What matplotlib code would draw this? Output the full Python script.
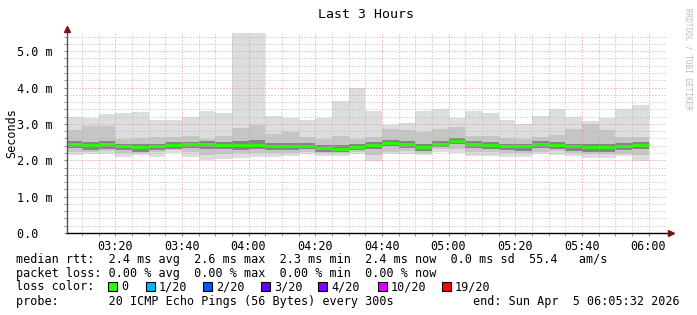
import numpy as np
import matplotlib
matplotlib.use("Agg")
import matplotlib.pyplot as plt
from matplotlib.lines import Line2D
from matplotlib.patches import Rectangle

# SmokePing "Last 3 Hours" - values in ms, one bar per 5 min step (03:10 .. 06:00)
t_start, t_end = 5 + 32 / 60, 185 + 32 / 60   # minutes after 03:00
step = 5
rtt_max = [3.20, 3.16, 3.26, 3.30, 3.32, 3.10, 3.10, 3.20, 3.35, 3.29, 5.50, 5.50,
           3.23, 3.17, 3.12, 3.17, 3.64, 3.99, 3.35, 2.96, 3.03, 3.35, 3.40, 3.17,
           3.35, 3.30, 3.10, 3.01, 3.23, 3.40, 3.18, 3.07, 3.17, 3.40, 3.53]
rtt_hi2 = [2.82, 2.94, 2.94, 2.59, 2.60, 2.64, 2.64, 2.66, 2.59, 2.66, 2.89, 2.98,
           2.73, 2.78, 2.64, 2.59, 2.68, 2.59, 2.64, 2.86, 2.84, 2.78, 2.87, 2.91,
           2.66, 2.66, 2.62, 2.59, 2.64, 2.70, 2.87, 2.99, 2.83, 2.64, 2.64]
rtt_hi3 = [2.52, 2.49, 2.52, 2.46, 2.44, 2.45, 2.49, 2.51, 2.52, 2.51, 2.52, 2.55,
           2.47, 2.47, 2.48, 2.42, 2.41, 2.45, 2.49, 2.56, 2.52, 2.45, 2.54, 2.62,
           2.52, 2.50, 2.46, 2.46, 2.54, 2.51, 2.46, 2.44, 2.44, 2.47, 2.49]
rtt_med = [2.45, 2.41, 2.44, 2.39, 2.36, 2.38, 2.41, 2.44, 2.44, 2.43, 2.42, 2.43,
           2.39, 2.39, 2.40, 2.34, 2.32, 2.37, 2.41, 2.48, 2.44, 2.37, 2.46, 2.54,
           2.44, 2.42, 2.38, 2.38, 2.46, 2.43, 2.38, 2.36, 2.36, 2.39, 2.41]
rtt_lo3 = [2.33, 2.28, 2.31, 2.29, 2.24, 2.28, 2.31, 2.33, 2.32, 2.31, 2.27, 2.30,
           2.27, 2.28, 2.30, 2.24, 2.22, 2.27, 2.30, 2.38, 2.34, 2.26, 2.37, 2.44,
           2.33, 2.31, 2.27, 2.26, 2.35, 2.32, 2.25, 2.24, 2.24, 2.28, 2.31]
rtt_lo2 = [2.24, 2.22, 2.25, 2.20, 2.20, 2.24, 2.27, 2.22, 2.15, 2.18, 2.20, 2.20,
           2.21, 2.21, 2.24, 2.20, 2.19, 2.23, 2.14, 2.24, 2.25, 2.21, 2.30, 2.30,
           2.22, 2.22, 2.21, 2.20, 2.24, 2.25, 2.20, 2.16, 2.17, 2.18, 2.14]
rtt_min = [2.15, 2.17, 2.16, 2.09, 2.14, 2.09, 2.20, 2.09, 2.00, 2.03, 2.07, 2.09,
           2.08, 2.13, 2.16, 2.13, 2.13, 2.17, 1.97, 2.17, 2.18, 2.14, 2.23, 2.20,
           2.11, 2.11, 2.10, 2.10, 2.17, 2.14, 2.11, 2.07, 2.07, 2.12, 1.98]

x_ticks = [20, 40, 60, 80, 100, 120, 140, 160, 180]
x_labels = ['03:20', '03:40', '04:00', '04:20', '04:40', '05:00', '05:20', '05:40', '06:00']
y_ticks = [0, 1, 2, 3, 4, 5]
y_labels = ['0.0  ', '1.0 m', '2.0 m', '3.0 m', '4.0 m', '5.0 m']

loss_labels = ['0', '1/20', '2/20', '3/20', '4/20', '10/20', '19/20']
loss_colors = ['#26ff00', '#00b8ff', '#0059ff', '#5e00ff', '#7e00ff', '#dd00ff', '#ff0000']

MONO = 'DejaVu Sans Mono'
W, H = 697, 315

fig = plt.figure(figsize=(W / 100, H / 100), dpi=100)
ax = fig.add_axes([67 / W, 82 / H, 600 / W, 200 / H])

n = len(rtt_med)
left = t_start - (t_start % step) + step * np.arange(n)  # bar starts, 5 min apart
left = np.array(left, dtype=float)

bands = [(rtt_min, rtt_max, '#dddddd'),
         (rtt_lo2, rtt_hi2, '#c6c6c6'),
         (rtt_lo3, rtt_hi3, '#858585')]
for lo, hi, c in bands:
    lo = np.array(lo); hi = np.array(hi)
    ax.bar(left, hi - lo, bottom=lo, width=step, align='edge', color=c,
           linewidth=0, zorder=1)
ax.hlines(rtt_med, left, left + step, colors=loss_colors[0], linewidth=2.0,
          zorder=3)

ax.set_xlim(t_start, t_end)
ax.set_ylim(0, 5.5)

ax.set_xticks(x_ticks)
ax.set_xticklabels(x_labels, fontfamily=MONO, fontsize=8.5)
ax.set_xticks(np.arange(10, 185, 5), minor=True)
ax.set_yticks(y_ticks)
ax.set_yticklabels(y_labels, fontfamily=MONO, fontsize=8.5)
ax.set_yticks(np.arange(0.2, 5.5, 0.2), minor=True)
ax.tick_params(axis='x', which='both', length=2, pad=3, color='#888888')
ax.tick_params(axis='y', which='both', length=2, pad=8, color='#888888')

ax.grid(which='minor', color='#b8b8b8', linestyle=(0, (1, 2)), linewidth=0.72,
        zorder=4)
ax.grid(which='major', color='#e39090', linestyle=(0, (1, 2)), linewidth=0.72,
        zorder=4)
ax.set_axisbelow(False)
for s in ax.spines.values():
    s.set_visible(False)

# axes with arrows
fig.add_artist(Line2D([67 / W, 67 / W], [(H - 233) / H, (H - 30) / H],
                      color='#555555', linewidth=1.0))
fig.add_artist(Line2D([67 / W, 670 / W], [(H - 233) / H, (H - 233) / H],
                      color='#000000', linewidth=1.0))
fig.add_artist(Line2D([67 / W], [(H - 29) / H], marker='^', markersize=5,
                      color='#7f1010', linestyle=''))
fig.add_artist(Line2D([671 / W], [(H - 233) / H], marker='>', markersize=5,
                      color='#7f1010', linestyle=''))

fig.text(12 / W, 1 - 133 / H, 'Seconds', rotation=90, ha='center', va='center',
         fontfamily=MONO, fontsize=8.5)
fig.text(366 / W, 1 - 14 / H, 'Last 3 Hours', ha='center', va='center',
         fontfamily=MONO, fontsize=9.5)
fig.text(688 / W, 1 - 8 / H, 'RRDTOOL / TOBI OETIKER', rotation=-90,
         ha='center', va='top', fontfamily=MONO, fontsize=5.5, color='#bbbbbb')

def line(y, s):
    fig.text(16.5 / W, 1 - y / H, s, ha='left', va='center',
             fontfamily=MONO, fontsize=8.5)

line(259.5, 'median rtt:  2.4 ms avg  2.6 ms max  2.3 ms min  2.4 ms now  0.0 ms sd  55.4   am/s')
line(273.5, 'packet loss: 0.00 % avg  0.00 % max  0.00 % min  0.00 % now')
line(287, 'loss color:')
line(301.5, 'probe:       20 ICMP Echo Pings (56 Bytes) every 300s')
fig.text(680 / W, 1 - 301.5 / H, 'end: Sun Apr  5 06:05:32 2026', ha='right',
         va='center', fontfamily=MONO, fontsize=8.5)

sq_x = [108, 145.5, 203, 261, 318, 377.5, 442]
for x, lab, c in zip(sq_x, loss_labels, loss_colors):
    fig.add_artist(Rectangle((x / W, (H - 291) / H), 9 / W, 9 / H, facecolor=c,
                             edgecolor='black', linewidth=0.8))
    fig.text((x + 13) / W, 1 - 287 / H, lab, ha='left', va='center',
             fontfamily=MONO, fontsize=8.5)

fig.savefig('out.png', dpi=100, facecolor='white')
